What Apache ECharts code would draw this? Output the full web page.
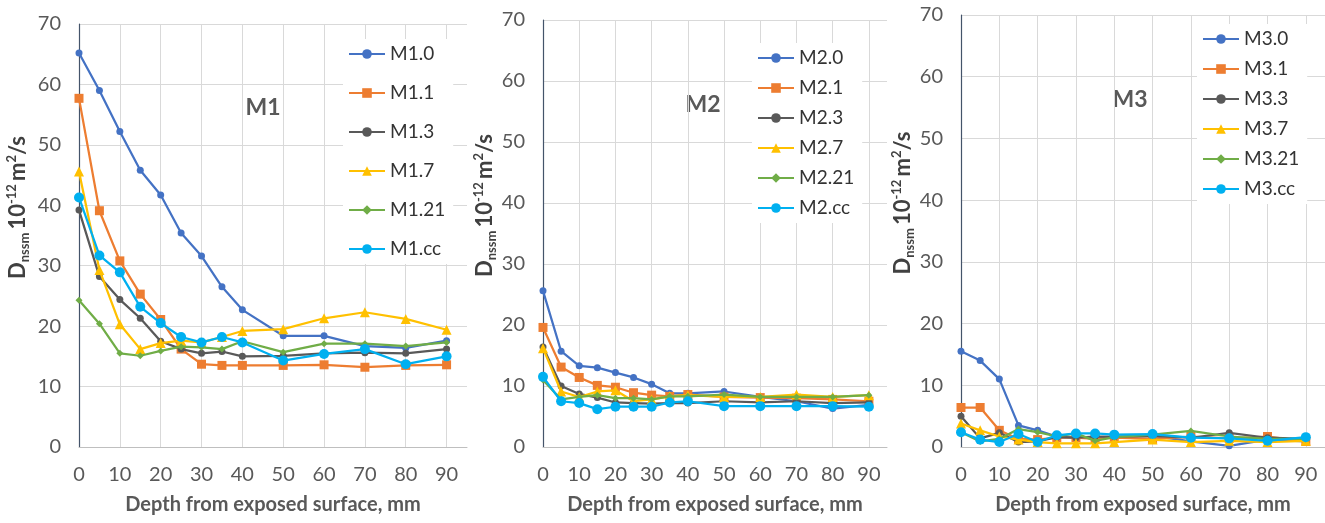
<!DOCTYPE html>
<html>
<head>
    <meta charset="utf-8">
    <title>Dnssm vs depth</title>
    <script src="https://cdn.jsdelivr.net/npm/echarts@6/dist/echarts.min.js"></script>
    <style>
        html, body { margin: 0; padding: 0; background: #fff; }
        #chartmain { width: 1325px; height: 523px; }
    </style>
</head>
<body>
<div id="chartmain"></div>
<script type="text/javascript">
    // depth from exposed surface, mm
    var depth = [0, 5, 10, 15, 20, 25, 30, 35, 40, 50, 60, 70, 80, 90];
    var xTicks = [0, 10, 20, 30, 40, 50, 60, 70, 80, 90];

    // panel M1
    var m1_0  = [65.2, 59.0, 52.2, 45.8, 41.7, 35.4, 31.6, 26.5, 22.7, 18.4, 18.4, 16.7, 16.4, 17.6];
    var m1_1  = [57.7, 39.1, 30.8, 25.3, 21.1, 16.2, 13.7, 13.5, 13.5, 13.5, 13.6, 13.2, 13.5, 13.6];
    var m1_3  = [39.2, 28.2, 24.4, 21.3, 17.5, 16.2, 15.5, 15.8, 15.0, 15.1, 15.5, 15.6, 15.5, 16.2];
    var m1_7  = [45.6, 29.3, 20.3, 16.2, 17.2, 17.6, 17.3, 18.2, 19.2, 19.5, 21.3, 22.3, 21.2, 19.4];
    var m1_21 = [24.3, 20.4, 15.5, 15.1, 15.9, 16.6, 16.5, 16.2, 17.5, 15.7, 17.1, 17.1, 16.7, 17.3];
    var m1_cc = [41.3, 31.7, 28.9, 23.2, 20.5, 18.2, 17.3, 18.2, 17.3, 14.3, 15.4, 16.2, 13.7, 15.0];

    // panel M2
    var m2_0  = [25.6, 15.7, 13.3, 13.0, 12.2, 11.4, 10.3, 8.8, 8.8, 9.1, 8.2, 7.5, 6.3, 6.9];
    var m2_1  = [19.6, 13.1, 11.4, 10.1, 9.8, 8.9, 8.5, 8.3, 8.6, 8.2, 8.1, 8.0, 7.8, 7.5];
    var m2_3  = [16.4, 10.0, 8.7, 8.1, 7.3, 7.2, 7.1, 7.2, 7.2, 7.5, 7.3, 7.5, 7.2, 7.3];
    var m2_7  = [16.2, 9.1, 8.2, 9.1, 9.3, 7.5, 7.8, 8.3, 8.5, 8.2, 8.2, 8.6, 8.2, 8.5];
    var m2_21 = [11.0, 7.8, 8.2, 8.5, 8.0, 8.0, 7.8, 8.3, 8.3, 8.6, 8.2, 8.2, 8.2, 8.5];
    var m2_cc = [11.5, 7.5, 7.2, 6.2, 6.6, 6.6, 6.6, 7.3, 7.5, 6.7, 6.7, 6.7, 6.7, 6.6];

    // panel M3
    var m3_0  = [15.5, 14.0, 11.0, 3.5, 2.7, 1.7, 1.5, 1.5, 1.5, 1.8, 0.9, 0.2, 1.2, 0.9];
    var m3_1  = [6.4, 6.4, 2.7, 1.3, 1.2, 1.5, 1.5, 1.3, 1.5, 1.3, 1.7, 1.4, 1.7, 0.9];
    var m3_3  = [5.0, 1.4, 2.3, 0.8, 0.9, 1.6, 1.5, 1.7, 1.7, 1.8, 1.5, 2.3, 1.5, 1.3];
    var m3_7  = [3.8, 2.7, 1.7, 1.2, 0.8, 0.6, 0.6, 0.6, 0.8, 1.2, 0.8, 1.0, 0.8, 1.0];
    var m3_21 = [2.4, 0.9, 1.3, 2.9, 2.4, 1.7, 2.2, 1.0, 1.6, 2.0, 2.6, 1.7, 1.3, 1.3];
    var m3_cc = [2.4, 1.2, 0.8, 2.1, 0.8, 1.9, 2.2, 2.2, 2.0, 2.1, 1.5, 1.4, 1.0, 1.6];

    var suffixes = ['.0', '.1', '.3', '.7', '.21', '.cc'];
    var panels = [
        { tag: 'M1', vals: [m1_0, m1_1, m1_3, m1_7, m1_21, m1_cc] },
        { tag: 'M2', vals: [m2_0, m2_1, m2_3, m2_7, m2_21, m2_cc] },
        { tag: 'M3', vals: [m3_0, m3_1, m3_3, m3_7, m3_21, m3_cc] }
    ];

    var colors  = ['#4472C4', '#ED7D31', '#595959', '#FFC000', '#70AD47', '#00B0F0'];
    var symbols = ['circle', 'rect', 'circle', 'triangle', 'diamond', 'circle'];
    var sizes   = [7, 9, 7, 10, 7, 10];

    var font = 'Lato, "Open Sans", sans-serif';

    // layout of the three panels
    var grids = [
        { left: 79,  right: 858, top: 24, bottom: 76, outerBoundsMode: 'none' },
        { left: 543, right: 438, top: 20, bottom: 76, outerBoundsMode: 'none' },
        { left: 961, right: 0,   top: 15, bottom: 76, outerBoundsMode: 'none' }
    ];
    var legendPos = [
        { left: 343,  top: 39, itemGap: 19 },
        { left: 752,  top: 43, itemGap: 10 },
        { left: 1197, top: 24, itemGap: 10 }
    ];
    var tagPos = [[263, 108], [703, 105], [1130, 100]];
    var yNameGap = [48, 45, 44];

    var xAxes = [], yAxes = [], series = [], legends = [], graphics = [];

    panels.forEach(function (p, pi) {
        xAxes.push({
            type: 'value', gridIndex: pi, min: 0, max: 95, interval: 10,
            name: 'Depth from exposed surface, mm',
            nameLocation: 'middle', nameGap: 48,
            nameTextStyle: { fontFamily: font, fontWeight: 'bold', fontSize: 20, color: '#595959' },
            axisLine: { show: true, onZero: false, lineStyle: { color: '#bfbfbf', width: 1 } },
            axisTick: { show: false },
            axisLabel: {
                fontFamily: font, fontSize: 20, color: '#595959', margin: 18,
                showMaxLabel: false,
                formatter: function (v) { return xTicks.indexOf(v) >= 0 ? String(v) : ''; }
            },
            splitLine: { show: true, showMaxLine: false, lineStyle: { color: '#d9d9d9', width: 1 } }
        });
        yAxes.push({
            type: 'value', gridIndex: pi, min: 0, max: 70, interval: 10,
            name: '{b|D}{sub|nssm} {b|10}{sup|-12} {b|m}{sup|2}{b|/s}',
            nameLocation: 'middle', nameGap: yNameGap[pi],
            nameTextStyle: {
                fontFamily: font, color: '#404040', padding: [0, 0, 0, 56],
                rich: {
                    b:   { fontFamily: font, fontWeight: 'bold', fontSize: 22, color: '#404040', lineHeight: 26, verticalAlign: 'middle' },
                    sub: { fontFamily: font, fontWeight: 'bold', fontSize: 13, color: '#404040', lineHeight: 26, verticalAlign: 'bottom' },
                    sup: { fontFamily: font, fontWeight: 'bold', fontSize: 13, color: '#404040', lineHeight: 26, verticalAlign: 'top' }
                }
            },
            axisLine: { show: true, lineStyle: { color: '#44546A', width: 1.2 } },
            axisTick: { show: false },
            axisLabel: { fontFamily: font, fontSize: 20, color: '#595959', margin: 18 },
            splitLine: { show: true, lineStyle: { color: '#d9d9d9', width: 1 } }
        });

        var names = [];
        p.vals.forEach(function (vals, k) {
            var nm = p.tag + suffixes[k];
            names.push(nm);
            series.push({
                name: nm, type: 'line', xAxisIndex: pi, yAxisIndex: pi,
                data: depth.map(function (d, i) { return [d, vals[i]]; }),
                symbol: symbols[k], symbolSize: sizes[k],
                lineStyle: { color: colors[k], width: 2.25 },
                itemStyle: { color: colors[k] },
                z: 3 + k
            });
        });

        legends.push({
            data: names, orient: 'vertical',
            left: legendPos[pi].left, top: legendPos[pi].top, itemGap: legendPos[pi].itemGap,
            itemWidth: 36, itemHeight: 12,
            backgroundColor: '#fff', padding: [5, 8, 5, 5],
            textStyle: { fontFamily: font, fontSize: 19, color: '#333', lineHeight: 20 }
        });

        graphics.push({
            type: 'text', x: tagPos[pi][0], y: tagPos[pi][1],
            style: {
                text: p.tag, fontFamily: font, fontWeight: 'bold', fontSize: 23, fill: '#595959',
                textAlign: 'center', textVerticalAlign: 'middle'
            }
        });
    });

    var myChart = echarts.init(document.getElementById('chartmain'));
    myChart.setOption({
        animation: false,
        backgroundColor: '#fff',
        grid: grids,
        xAxis: xAxes,
        yAxis: yAxes,
        legend: legends,
        graphic: graphics,
        series: series
    });
</script>
</body>
</html>
